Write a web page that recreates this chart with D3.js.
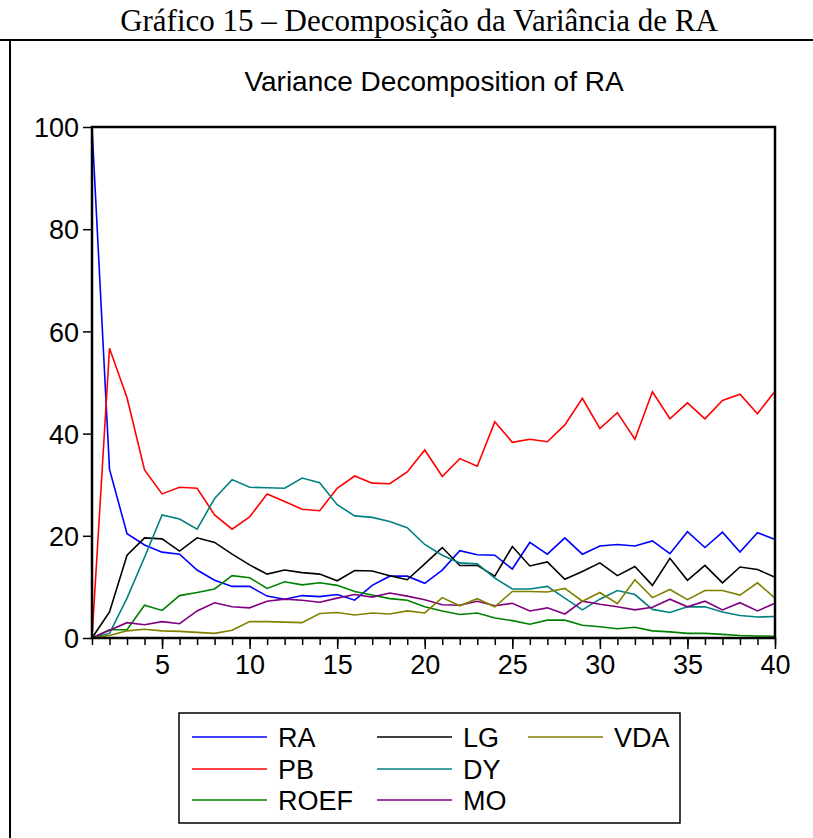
<!DOCTYPE html>
<html>
<head>
<meta charset="utf-8">
<script src="https://cdn.jsdelivr.net/npm/d3@7"></script>
<style>
  body { margin: 0; background: #fff; }
  svg { display: block; }
</style>
</head>
<body>
<div id="chart"></div>
<script>
// periods 1..40
const periods = d3.range(1, 41);

const seriesNames = ['RA', 'PB', 'ROEF', 'LG', 'DY', 'MO', 'VDA'];
const seriesColors = ['#0000ff', '#ff0000', '#008000', '#000000', '#008080', '#800080', '#808000'];

const raValues = [100, 33.0, 20.4, 18.2, 16.8, 16.4, 13.3, 11.3, 10.1, 10.1,
  8.2, 7.6, 8.3, 8.1, 8.5, 7.4, 10.3, 12.1, 12.1, 10.7,
  13.3, 17.1, 16.3, 16.2, 13.5, 18.7, 16.4, 19.6, 16.4, 18.0,
  18.3, 18.0, 19.0, 16.5, 20.8, 17.7, 20.7, 16.8, 20.6, 19.3];
const pbValues = [0, 56.7, 47.0, 32.9, 28.2, 29.5, 29.3, 24.1, 21.3, 23.7,
  28.2, 26.7, 25.2, 24.9, 29.3, 31.7, 30.3, 30.2, 32.5, 36.8,
  31.6, 35.1, 33.6, 42.3, 38.3, 38.9, 38.4, 41.7, 46.9, 41.0,
  44.1, 38.9, 48.2, 42.9, 46.0, 42.9, 46.5, 47.7, 43.9, 48.3];
const roefValues = [0, 1.6, 1.6, 6.4, 5.4, 8.3, 8.9, 9.6, 12.2, 11.8,
  9.7, 11.0, 10.4, 10.8, 10.3, 9.1, 8.4, 7.7, 7.4, 6.1,
  5.3, 4.6, 4.9, 3.9, 3.4, 2.7, 3.5, 3.5, 2.5, 2.2,
  1.8, 2.1, 1.4, 1.2, 0.9, 0.9, 0.7, 0.5, 0.4, 0.35];
const lgValues = [0, 5.1, 16.2, 19.6, 19.4, 17.0, 19.6, 18.7, 16.4, 14.3,
  12.5, 13.3, 12.8, 12.5, 11.2, 13.2, 13.1, 12.2, 11.4, 14.5,
  17.7, 14.2, 14.2, 12.1, 17.9, 14.1, 14.9, 11.5, 13.0, 14.7,
  12.2, 14.0, 10.3, 15.6, 11.3, 14.2, 10.8, 13.9, 13.4, 11.9];
const dyValues = [0, 0.9, 7.8, 15.8, 24.1, 23.3, 21.3, 27.3, 31.0, 29.5,
  29.4, 29.3, 31.3, 30.4, 26.1, 23.9, 23.6, 22.8, 21.6, 18.3,
  16.2, 14.7, 14.5, 11.7, 9.6, 9.6, 10.1, 7.8, 5.5, 7.6,
  9.3, 8.5, 5.6, 5.0, 6.1, 6.1, 5.1, 4.4, 4.1, 4.2];
const moValues = [0, 1.5, 3.0, 2.6, 3.2, 2.8, 5.3, 6.9, 6.1, 5.9,
  7.2, 7.6, 7.4, 7.0, 7.8, 8.5, 8.0, 8.8, 8.2, 7.5,
  6.5, 6.4, 7.2, 6.3, 6.8, 5.3, 5.9, 4.7, 7.2, 6.6,
  6.1, 5.5, 6.0, 7.6, 6.1, 7.2, 5.5, 6.9, 5.3, 6.8];
const vdaValues = [0, 0.5, 1.4, 1.7, 1.4, 1.3, 1.1, 0.9, 1.5, 3.2,
  3.2, 3.1, 3.0, 4.8, 5.0, 4.5, 4.9, 4.7, 5.3, 4.9,
  7.9, 6.3, 7.7, 6.1, 9.1, 9.1, 9.0, 9.7, 7.2, 8.9,
  6.7, 11.4, 7.9, 9.5, 7.5, 9.3, 9.3, 8.4, 10.8, 7.8];

const yTicks = [0, 20, 40, 60, 80, 100];
const xTickLabels = [5, 10, 15, 20, 25, 30, 35, 40];

const drawChart = () => {
  let width = 813;
  let height = 838;
  let plot = { left: 92, right: 775, top: 127, bottom: 638 };

  let svg = d3
    .select('#chart')
    .append('svg')
    .attr('width', width)
    .attr('height', height);

  svg.append('rect').attr('width', width).attr('height', height).attr('fill', '#fff');

  // caption above the figure
  svg
    .append('text')
    .attr('x', 419)
    .attr('y', 31)
    .attr('text-anchor', 'middle')
    .attr('font-family', 'Liberation Serif, Times New Roman, serif')
    .attr('font-size', 31)
    .text('Gráfico 15 – Decomposição da Variância de RA');

  svg.append('line').attr('x1', 0).attr('x2', width).attr('y1', 40).attr('y2', 40)
    .attr('stroke', '#000').attr('stroke-width', 2);
  svg.append('line').attr('x1', 10).attr('x2', 10).attr('y1', 40).attr('y2', height)
    .attr('stroke', '#000').attr('stroke-width', 2);

  svg
    .append('text')
    .attr('x', 434)
    .attr('y', 91)
    .attr('text-anchor', 'middle')
    .attr('font-family', 'Liberation Sans, Arial, sans-serif')
    .attr('font-size', 28)
    .text('Variance Decomposition of RA');

  let x = d3.scaleLinear().domain([1, 40]).range([plot.left, plot.right]);
  let y = d3.scaleLinear().domain([0, 100]).range([plot.bottom, plot.top]);

  // y axis
  let yAxis = svg
    .append('g')
    .attr('transform', `translate(${plot.left},0)`)
    .call(d3.axisLeft(y).tickValues(yTicks).tickSize(9).tickPadding(4));
  yAxis.select('.domain').remove();
  yAxis.selectAll('line').attr('stroke-width', 1.5);
  yAxis.selectAll('text')
    .attr('font-family', 'Liberation Sans, Arial, sans-serif')
    .attr('font-size', 27)
    .attr('fill', '#000')
    .attr('dy', '0.36em');

  // x axis: minor tick at every period, longer at labelled ones
  let xAxisMinor = svg
    .append('g')
    .attr('transform', `translate(0,${plot.bottom})`)
    .call(d3.axisBottom(x).tickValues(periods).tickSize(7).tickFormat(''));
  xAxisMinor.select('.domain').remove();
  xAxisMinor.selectAll('line').attr('stroke-width', 1.5);

  let xAxis = svg
    .append('g')
    .attr('transform', `translate(0,${plot.bottom})`)
    .call(d3.axisBottom(x).tickValues(xTickLabels).tickSize(11).tickPadding(6).tickFormat(d3.format('d')));
  xAxis.select('.domain').remove();
  xAxis.selectAll('line').attr('stroke-width', 1.5);
  xAxis.selectAll('text')
    .attr('font-family', 'Liberation Sans, Arial, sans-serif')
    .attr('font-size', 27)
    .attr('fill', '#000');

  // series
  let seriesValues = [raValues, pbValues, roefValues, lgValues, dyValues, moValues, vdaValues];
  let line = d3
    .line()
    .x((d, i) => x(periods[i]))
    .y((d) => y(d));

  svg
    .append('g')
    .selectAll('.series')
    .data(seriesValues)
    .enter()
    .append('path')
    .attr('class', 'series')
    .attr('d', line)
    .attr('fill', 'none')
    .attr('stroke', (d, i) => seriesColors[i])
    .attr('stroke-width', 1.6);

  // plot frame
  svg
    .append('rect')
    .attr('x', plot.left)
    .attr('y', plot.top)
    .attr('width', plot.right - plot.left)
    .attr('height', plot.bottom - plot.top)
    .attr('fill', 'none')
    .attr('stroke', '#000')
    .attr('stroke-width', 2.5);

  // legend
  let legend = svg.append('g').attr('class', 'legend');
  legend
    .append('rect')
    .attr('x', 179)
    .attr('y', 713)
    .attr('width', 501)
    .attr('height', 110)
    .attr('fill', '#fff')
    .attr('stroke', '#000')
    .attr('stroke-width', 1.5);

  let colX = [192, 377, 528];
  let rowY = [737, 769, 800];

  legend
    .selectAll('.legend-item')
    .data(seriesNames)
    .enter()
    .append('g')
    .attr('class', 'legend-item')
    .attr('transform', (d, i) => `translate(${colX[Math.floor(i / 3)]},${rowY[i % 3]})`)
    .each(function (d, i) {
      let item = d3.select(this);
      item
        .append('line')
        .attr('x1', 0)
        .attr('x2', 75)
        .attr('stroke', seriesColors[i])
        .attr('stroke-width', 1.6);
      item
        .append('text')
        .attr('x', 86)
        .attr('y', 10)
        .attr('font-family', 'Liberation Sans, Arial, sans-serif')
        .attr('font-size', 27)
        .attr('fill', '#000')
        .text(d);
    });
};

drawChart();
</script>
</body>
</html>
